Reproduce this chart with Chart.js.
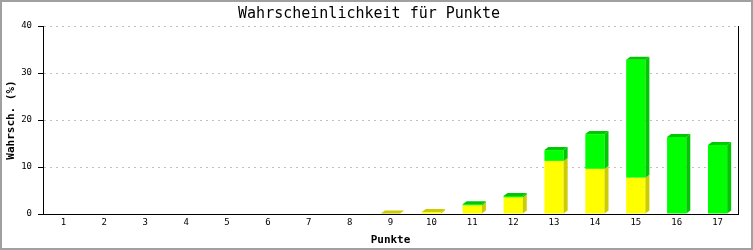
<!DOCTYPE html>
<html>
<head>
<meta charset="utf-8">
<script src="https://cdn.jsdelivr.net/npm/chart.js@4/dist/chart.umd.min.js"></script>
<style>
  html, body { margin: 0; padding: 0; background: #fff; }
  canvas { display: block; }
</style>
</head>
<body>
<canvas id="chart" width="753" height="250"></canvas>
<script>
// x categories (points)
const punkte = ['1', '2', '3', '4', '5', '6', '7', '8', '9', '10', '11', '12', '13', '14', '15', '16', '17'];

// stacked values in percent
const yellowVals = [0, 0, 0, 0, 0, 0, 0, 0, 0.1, 0.4, 1.8, 3.5, 11.3, 9.6, 7.7, 0, 0];
const greenVals  = [0, 0, 0, 0, 0, 0, 0, 0, 0, 0, 0.3, 0.35, 2.3, 7.4, 25.1, 16.4, 14.7];

const yTicks = [0, 10, 20, 30, 40];

const mono = '"DejaVu Sans Mono", monospace';

// fake 3D: side and top faces next to each stacked bar
const depth3d = {
  id: 'depth3d',
  afterDatasetsDraw(chart) {
    const ctx = chart.ctx;
    const dx = 4, dy = 3;
    const metas = chart.data.datasets.map((d, i) => chart.getDatasetMeta(i));
    ctx.save();
    for (let i = 0; i < punkte.length; i++) {
      let topBar = null, topColor = null;
      metas.forEach((meta, di) => {
        const ds = chart.data.datasets[di];
        if (!(ds.data[i] > 0)) return;
        const bar = meta.data[i];
        const r = bar.x + bar.width / 2;
        ctx.fillStyle = ds.sideColor;
        ctx.beginPath();
        ctx.moveTo(r, bar.y);
        ctx.lineTo(r + dx, bar.y - dy);
        ctx.lineTo(r + dx, bar.base - dy);
        ctx.lineTo(r, bar.base);
        ctx.closePath();
        ctx.fill();
        topBar = bar;
        topColor = ds.sideColor;
      });
      if (topBar) {
        const l = topBar.x - topBar.width / 2;
        const r = topBar.x + topBar.width / 2;
        ctx.fillStyle = topColor;
        ctx.beginPath();
        ctx.moveTo(l, topBar.y);
        ctx.lineTo(l + dx, topBar.y - dy);
        ctx.lineTo(r + dx, topBar.y - dy);
        ctx.lineTo(r, topBar.y);
        ctx.closePath();
        ctx.fill();
      }
    }
    ctx.restore();
  }
};

// white background and grey frame round the whole picture
const frame = {
  id: 'frame',
  beforeDraw(chart) {
    const ctx = chart.ctx;
    ctx.save();
    ctx.fillStyle = '#ffffff';
    ctx.fillRect(0, 0, chart.width, chart.height);
    ctx.restore();
  },
  afterDraw(chart) {
    const ctx = chart.ctx;
    ctx.save();
    ctx.strokeStyle = '#a0a0a0';
    ctx.lineWidth = 2;
    ctx.strokeRect(1, 1, chart.width - 2, chart.height - 2);
    ctx.restore();
  }
};

const ctx = document.getElementById('chart').getContext('2d');
new Chart(ctx, {
  type: 'bar',
  data: {
    labels: punkte,
    datasets: [
      {
        label: 'gelb',
        data: yellowVals,
        backgroundColor: '#ffff00',
        sideColor: '#cccc00',
        borderWidth: 0,
      },
      {
        label: 'grün',
        data: greenVals,
        backgroundColor: '#00ff00',
        sideColor: '#00c800',
        borderWidth: 0,
      },
    ],
  },
  options: {
    responsive: false,
    animation: false,
    devicePixelRatio: 1,
    categoryPercentage: 1,
    barPercentage: 0.47,
    layout: { padding: { left: 0, right: 15, top: 0, bottom: 0 } },
    plugins: {
      legend: { display: false },
      tooltip: { enabled: false },
      title: {
        display: true,
        text: 'Wahrscheinlichkeit für Punkte',
        color: '#000',
        font: { family: mono, size: 15, weight: 'normal', lineHeight: 1.2 },
        padding: { top: 5, bottom: 3 },
      },
    },
    scales: {
      x: {
        stacked: true,
        grid: { display: false, drawTicks: false },
        border: { display: true, color: '#000', width: 1 },
        ticks: {
          color: '#000',
          font: { family: mono, size: 9 },
          padding: 3,
          maxRotation: 0,
        },
        title: {
          display: true,
          text: 'Punkte',
          color: '#000',
          font: { family: mono, size: 11, weight: 'bold', lineHeight: 1.2 },
          padding: { top: 0, bottom: 3 },
        },
        afterFit(scale) { scale.height = 36; },
      },
      y: {
        stacked: true,
        min: 0,
        max: 40,
        afterBuildTicks(scale) { scale.ticks = yTicks.map(v => ({ value: v })); },
        grid: {
          color: (c) => (c.tick && c.tick.value === 0 ? 'rgba(0,0,0,0)' : '#c0c0c0'),
          tickColor: '#000',
          tickLength: 5,
          tickBorderDash: [],
          lineWidth: 1,
        },
        border: { display: true, color: '#000', width: 1, dash: [2, 4] },
        ticks: {
          color: '#000',
          font: { family: mono, size: 9 },
          padding: 6,
        },
        title: {
          display: true,
          text: 'Wahrsch. (%)',
          color: '#000',
          font: { family: mono, size: 11, weight: 'bold', lineHeight: 1.2 },
          padding: { top: 5, bottom: 0 },
        },
        afterFit(scale) { scale.width = 43; },
      },
      y2: {
        position: 'right',
        min: 0,
        max: 40,
        grid: { display: false, drawTicks: false },
        border: { display: true, color: '#000', width: 1 },
        ticks: { display: false },
        afterFit(scale) { scale.width = 0; },
      },
    },
  },
  plugins: [frame, depth3d],
});
</script>
</body>
</html>
